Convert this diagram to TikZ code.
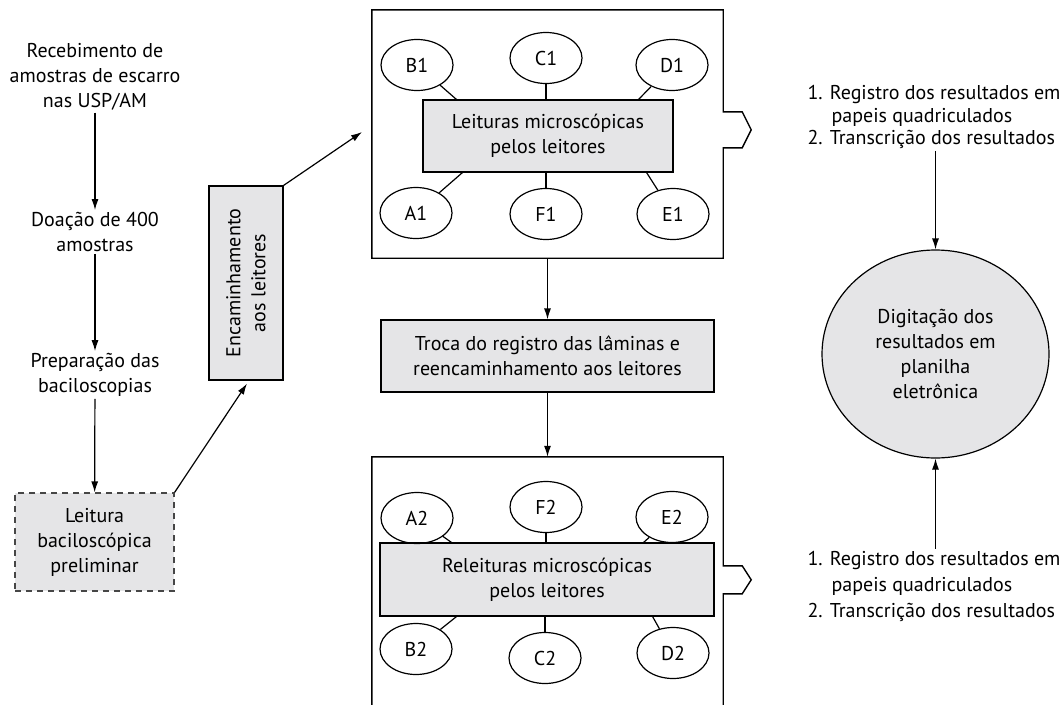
\documentclass[tikz,border=0pt]{standalone}
\usepackage{fontspec}
\setmainfont{PT Sans}
\usetikzlibrary{shapes.geometric,arrows.meta,calc}
\definecolor{boxgray}{RGB}{229,229,231}
\definecolor{dashgray}{RGB}{70,70,70}
\tikzset{
  every node/.style={font=\fontsize{20}{25}\selectfont, text=black},
  lbl/.style={align=center, inner sep=2pt},
  graybox/.style={draw, fill=boxgray, line width=1.2pt, align=center, inner sep=0pt},
  reader/.style={draw, ellipse, line width=1.2pt, minimum width=72pt, minimum height=51pt, inner sep=0pt},
  arr/.style={-{Latex[length=11pt,width=7pt]}, line width=1.2pt},
  link/.style={line width=1.2pt},
  frame/.style={line width=1.4pt},
}
\begin{document}
\begin{tikzpicture}[x=1pt,y=-1pt]
\useasboundingbox (0,0) rectangle (1062,704);
% left column
\node[lbl] (t1) at (95,77) {Recebimento de\\amostras de escarro\\nas USP/AM};
\node[lbl] (t2) at (95,232) {Doação de 400\\amostras};
\node[lbl] (t3) at (95,375) {Preparação das\\baciloscopias};
\node[graybox, dashed, dash pattern=on 6pt off 5pt, draw=dashgray, minimum width=159pt, minimum height=98pt] (prel) at (94.5,542) {Leitura\\baciloscópica\\preliminar};
\node[graybox, minimum width=74pt, minimum height=194pt] (enc) at (246,283) {};
\node[rotate=90, align=center, inner sep=0pt] (enctext) at (enc.center) {Encaminhamento\\aos leitores};
\draw[arr] (t1) -- (t2);
\draw[arr] (t2) -- (t3);
\draw[arr] (t3) -- (prel);
\draw[arr] (prel.north east) -- ($(enc.south)+(1,3)$);
\coordinate (topin) at (362,132);
\draw[arr] (enc.north east) -- (topin);
% top frame
\node[minimum width=351pt, minimum height=248pt, inner sep=0pt] (top) at (547.5,134) {};
\draw[frame] (top.north west) -- (top.north east) -- ++(0,102) -- ++(19,0) -- ++(9,18) -- ++(-9,18) -- ++(-19,0) -- (top.south east) -- (top.south west) -- cycle;
\node[graybox, minimum width=250pt, minimum height=72pt] (in1) at (548,136) {Leituras microscópicas\\pelos leitores};
\node[reader] (B1) at (417,65) {B1};
\node[reader] (C1) at (546,58) {C1};
\node[reader] (D1) at (672,65) {D1};
\node[reader] (A1) at (416,213) {A1};
\node[reader] (F1) at (546,214) {F1};
\node[reader] (E1) at (673,214) {E1};
\draw[link] (B1) -- ($(in1.north west)+(34,0)$);
\draw[link] (C1) -- (C1 |- in1.north);
\draw[link] (D1) -- ($(in1.north east)+(-35,0)$);
\draw[link] (A1) -- ($(in1.south west)+(40,0)$);
\draw[link] (F1) -- (F1 |- in1.south);
\draw[link] (E1) -- ($(in1.south east)+(-27,0)$);
% middle
\node[graybox, minimum width=333pt, minimum height=72pt] (troca) at (547.5,356) {Troca do registro das lâminas e\\reencaminhamento aos leitores};
\draw[arr] (top.south) -- (troca.north);
% bottom frame
\node[minimum width=351pt, minimum height=250pt, inner sep=0pt] (bot) at (547.5,582) {};
\draw[arr] (troca.south) -- (bot.north);
\draw[frame] (bot.north west) -- (bot.north east) -- ++(0,109) -- ++(19,0) -- ++(9,14) -- ++(-9,14) -- ++(-19,0) -- (bot.south east) -- (bot.south west) -- cycle;
\node[graybox, minimum width=334pt, minimum height=73pt] (in2) at (547,579.5) {Releituras microscópicas\\pelos leitores};
\node[reader] (A2) at (417,518) {A2};
\node[reader] (F2) at (546,507) {F2};
\node[reader] (E2) at (672,517) {E2};
\node[reader] (B2) at (416,649) {B2};
\node[reader] (C2) at (545,658) {C2};
\node[reader] (D2) at (673,653) {D2};
\draw[link] (A2) -- ($(in2.north west)+(72,0)$);
\draw[link] (F2) -- (F2 |- in2.north);
\draw[link] (E2) -- ($(in2.north east)+(-71,0)$);
\draw[link] (B2) -- ($(in2.south west)+(77,0)$);
\draw[link] (C2) -- (C2 |- in2.south);
\draw[link] (D2) -- ($(in2.south east)+(-62,0)$);
% right column
\node[draw, ellipse, fill=boxgray, line width=1.2pt, minimum width=227pt, minimum height=208pt, inner sep=0pt, align=center] (circ) at (935.5,354) {Digitação dos\\resultados em\\planilha\\eletrônica};
\node[align=left, inner sep=2pt, font=\fontsize{20}{22.5}\selectfont] (rtop) at (934,117) {1. Registro dos resultados em\\\hspace*{1.2em}papeis quadriculados\\2. Transcrição dos resultados};
\node[align=left, inner sep=2pt, font=\fontsize{20}{26}\selectfont] (rbot) at (934,586) {1. Registro dos resultados em\\\hspace*{1.2em}papeis quadriculados\\2. Transcrição dos resultados};
\draw[arr] (circ.north |- rtop.south) -- (circ.north);
\draw[arr] (circ.south |- rbot.north) -- (circ.south);
\end{tikzpicture}
\end{document}
